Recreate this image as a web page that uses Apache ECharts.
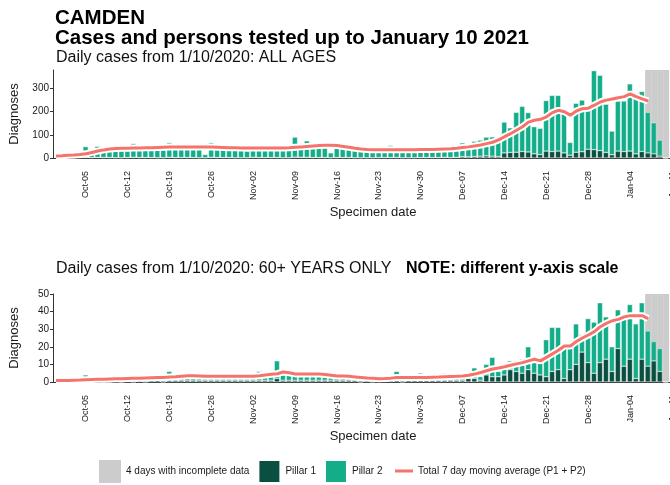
<!DOCTYPE html>
<html>
<head>
<meta charset="utf-8">
<script src="https://cdn.jsdelivr.net/npm/echarts@6/dist/echarts.min.js"></script>
<style>
  html, body { margin: 0; padding: 0; background: #fff; }
  #chart { width: 670px; height: 485px; }
</style>
</head>
<body>
<div id="chart"></div>
<script>
// categories: one per day from 30 Sep 2020, axis runs a few days past the data
const MONTHS = ['Jan', 'Feb', 'Mar', 'Apr', 'May', 'Jun', 'Jul', 'Aug', 'Sep', 'Oct', 'Nov', 'Dec'];
const dayCount = 107;
const categories = [];
for (let i = 0; i < dayCount; i++) {
  const d = new Date(Date.UTC(2020, 8, 30 + i));
  categories.push(MONTHS[d.getUTCMonth()] + '-' + String(d.getUTCDate()).padStart(2, '0'));
}

const tickDates = ['Oct-05', 'Oct-12', 'Oct-19', 'Oct-26', 'Nov-02', 'Nov-09', 'Nov-16', 'Nov-23',
  'Nov-30', 'Dec-07', 'Dec-14', 'Dec-21', 'Dec-28', 'Jan-04', 'Jan-11'];
const incompleteDates = ['Jan-07', 'Jan-08', 'Jan-09', 'Jan-10'];

// ALL AGES (Sep-30 .. Jan-10)
const pillar1All = [null,
  1, 1, 2, 2, 3, 2, 3, 2, 2, 1, 1, 2, 3, 2, 2, 2, 1, 1, 3, 2, 2, 2, 2, 1, 1, 3, 2, 2, 2, 1, 1,
  1, 3, 2, 2, 2, 2, 1, 1, 4, 3, 3, 2, 2, 2, 1, 2, 2, 2, 1, 1, 1, 1, 2, 2, 2, 2, 1, 1, 1, 2,
  2, 2, 2, 3, 2, 3,
  6, 5, 7, 8, 9, 8, 6, 22, 24, 25, 28, 26, 18, 15, 30, 28, 30, 22, 12, 25, 27, 38, 36, 32, 24, 14, 30, 28, 30, 18, 28, 22, 18, 8, 0];
const pillar2All = [null,
  7, 9, 12, 20, 46, 28, 47, 36, 38, 34, 31, 43, 59, 42, 38, 40, 37, 35, 63, 46, 44, 43, 42, 39, 14, 63, 43, 42, 40, 39, 37,
  29, 51, 43, 40, 42, 38, 37, 34, 86, 47, 71, 50, 48, 43, 21, 46, 40, 36, 35, 33, 29, 27, 47, 36, 52, 34, 34, 29, 27, 38,
  40, 38, 36, 41, 38, 39,
  59, 45, 65, 69, 81, 83, 79, 133, 106, 172, 195, 170, 117, 113, 218, 242, 240, 173, 55, 211, 223, 187, 341, 325, 208, 102, 216, 218, 290, 262, 259, 175, 134, 69, 0];
// 7 day average (Sep-30 .. Jan-07)
const avgAll = [9,
  10, 12, 13, 15, 18, 24, 30, 35, 39, 41, 42, 42, 43, 43, 44, 44, 45, 46, 47, 48, 48, 48, 48, 48, 47, 47, 46, 45, 44, 44, 43,
  43, 43, 43, 43, 43, 43, 43, 44, 46, 48, 50, 52, 54, 55, 55, 54, 50, 46, 42, 39, 37, 36, 36, 36, 36, 36, 36, 36, 36, 37,
  37, 37, 38, 39, 40, 42, 45, 48, 52, 56, 62, 68, 78, 92, 105, 120, 135, 155, 163, 167, 178, 196, 206, 200, 185, 203, 213, 215, 228, 242, 250,
  255, 260, 265, 277, 265, 255, 246];

// 60+ YEARS ONLY
const pillar1Old = [null,
  0, 0, 0, 1, 0, 0, 1, 0, 0, 1, 0, 1, 0, 1, 0, 1, 1, 0, 1, 1, 1, 1, 1, 1, 1, 1, 1, 1, 1, 1, 1,
  1, 1, 1, 1, 1, 2, 1, 1, 1, 1, 1, 1, 1, 1, 1, 1, 1, 1, 1, 0, 1, 0, 1, 1, 1, 1, 0, 1, 1, 1,
  1, 1, 1, 1, 1, 1,
  1, 2, 2, 1, 4, 3, 3, 4, 7, 6, 5, 7, 5, 4, 3, 6, 7, 2, 7, 10, 17, 11, 5, 11, 13, 6, 19, 9, 13, 2, 13, 9, 12, 6, 0];
const pillar2Old = [null,
  1, 1, 1, 1, 4, 1, 1, 2, 1, 1, 1, 3, 2, 1, 4, 1, 2, 2, 5, 2, 4, 2, 3, 2, 1, 2, 3, 2, 3, 2, 2,
  2, 2, 5, 3, 3, 10, 3, 3, 4, 4, 4, 3, 3, 2, 2, 3, 2, 2, 1, 2, 1, 2, 1, 1, 2, 5, 2, 1, 1, 4,
  1, 2, 2, 4, 2, 2,
  1, 1, 6, 2, 6, 11, 3, 5, 5, 6, 8, 13, 6, 7, 21, 25, 24, 20, 13, 23, 10, 25, 29, 34, 24, 14, 22, 27, 31, 31, 32, 20, 11, 13, 0];
const avgOld = [0.8,
  0.8, 0.9, 1.0, 1.1, 1.3, 1.4, 1.5, 1.6, 1.7, 1.8, 1.9, 2.0, 2.1, 2.2, 2.3, 2.4, 2.5, 2.6, 2.8, 3.0, 3.3, 3.6, 3.5, 3.4, 3.3, 3.2, 3.2, 3.2, 3.2, 3.2, 3.2,
  3.2, 3.3, 3.6, 4.0, 4.4, 4.7, 5.7, 5.2, 4.6, 4.5, 4.5, 4.5, 4.5, 4.2, 3.8, 3.4, 3.4, 3.2, 2.9, 2.6, 2.3, 2.1, 1.9, 2.0, 2.2, 2.6, 2.6, 2.5, 2.5, 2.5,
  2.6, 2.7, 2.8, 3.0, 3.1, 3.2, 3.4, 3.8, 4.5, 5.4, 6.4, 7.4, 8.0, 8.7, 9.5, 10.3, 11.0, 12.0, 12.9, 12.0, 14.0, 16.0, 18.0, 20.5, 20.5, 23.0, 25.0, 26.7, 28.6, 31.4, 33.3,
  34.8, 35.6, 37.0, 37.7, 37.7, 37.7, 36.0];

const yTicksAll = [0, 100, 200, 300];
const yTicksOld = [0, 10, 20, 30, 40, 50];

const FONT = '"Liberation Sans", Arial, sans-serif';
const C_P1 = '#0b4f40';
const C_P2 = '#14ad8a';
const C_GREY = '#cccccc';
const C_AVG = '#f6736b';
const C_TEXT = '#1a1a1a';
const N_GREY = '4 days with incomplete data';
const N_AVG = 'Total 7 day moving average (P1 + P2)';

const panels = [
  {top: 70, max: 380, yTicks: yTicksAll, p1: pillar1All, p2: pillar2All, avg: avgAll},
  {top: 294, max: 50, yTicks: yTicksOld, p1: pillar1Old, p2: pillar2Old, avg: avgOld}
];

const isTick = (idx, value) => tickDates.includes(value);

const grid = [], xAxis = [], yAxis = [], series = [];
panels.forEach((p, i) => {
  grid.push({left: 53, right: -23, top: p.top, height: 88, outerBoundsMode: 'none'});
  xAxis.push({
    type: 'category', gridIndex: i, data: categories, boundaryGap: true,
    axisLine: {lineStyle: {color: '#333', width: 1}},
    axisTick: {alignWithLabel: true, interval: isTick, length: 3, lineStyle: {color: '#333'}},
    axisLabel: {interval: isTick, rotate: 90, margin: 13, fontSize: 9, color: C_TEXT, fontFamily: FONT},
    name: 'Specimen date', nameLocation: 'middle', nameGap: 48,
    nameTextStyle: {fontSize: 13, color: C_TEXT, fontFamily: FONT}
  });
  yAxis.push({
    type: 'value', gridIndex: i, min: 0, max: p.max,
    axisLine: {show: true, lineStyle: {color: '#333'}},
    axisTick: {show: true, length: 3, customValues: p.yTicks, lineStyle: {color: '#333'}},
    axisLabel: {customValues: p.yTicks, fontSize: 10, color: C_TEXT, margin: 4, fontFamily: FONT},
    splitLine: {show: false},
    name: 'Diagnoses', nameLocation: 'middle', nameRotate: 90, nameGap: 32,
    nameTextStyle: {fontSize: 13, color: C_TEXT, fontFamily: FONT}
  });
  const barBase = {
    type: 'bar', xAxisIndex: i, yAxisIndex: i, stack: 'pillars' + i,
    barWidth: '88%', barGap: '-100%', z: 3, silent: true
  };
  series.push(Object.assign({}, barBase, {
    name: 'Pillar 1', data: p.p1,
    itemStyle: {color: C_P1, borderColor: '#fff', borderWidth: 0.4}
  }));
  series.push(Object.assign({}, barBase, {
    name: 'Pillar 2', data: p.p2,
    itemStyle: {color: C_P2, borderColor: '#fff', borderWidth: 0.4}
  }));
  series.push({
    type: 'bar', name: N_GREY, xAxisIndex: i, yAxisIndex: i,
    data: categories.map(c => incompleteDates.includes(c) ? p.max : null),
    barWidth: '100%', barGap: '-100%', z: 1, silent: true,
    itemStyle: {color: C_GREY}
  });
  // white halo under the average line
  series.push({
    type: 'line', name: 'halo' + i, xAxisIndex: i, yAxisIndex: i, data: p.avg,
    symbol: 'none', z: 4, silent: true,
    lineStyle: {color: '#fff', width: 7}, itemStyle: {color: '#fff'}
  });
  series.push({
    type: 'line', name: N_AVG, xAxisIndex: i, yAxisIndex: i, data: p.avg,
    symbol: 'none', z: 5, silent: true,
    lineStyle: {color: C_AVG, width: 3}, itemStyle: {color: C_AVG}
  });
});

const chart = echarts.init(document.getElementById('chart'));
chart.setOption({
  animation: false,
  backgroundColor: '#fff',
  title: [
    {text: 'CAMDEN\nCases and persons tested up to January 10 2021', left: 55, top: 8, padding: 0,
      textStyle: {fontSize: 20.5, fontWeight: 'bold', color: '#000', lineHeight: 20, fontFamily: FONT}},
    {text: 'Daily cases from 1/10/2020: ALL AGES', left: 56, top: 50, padding: 0,
      textStyle: {fontSize: 16, fontWeight: 'normal', color: '#111', fontFamily: FONT}},
    {text: 'Daily cases from 1/10/2020: 60+ YEARS ONLY', left: 56, top: 261, padding: 0,
      textStyle: {fontSize: 16, fontWeight: 'normal', color: '#111', fontFamily: FONT}},
    {text: 'NOTE: different y-axis scale', left: 406, top: 261, padding: 0,
      textStyle: {fontSize: 16, fontWeight: 'bold', color: '#000', fontFamily: FONT}}
  ],
  legend: [
    {data: [N_GREY, 'Pillar 1', 'Pillar 2'], left: 99, top: 459, padding: 0,
      itemWidth: 22, itemHeight: 23, itemGap: 8, icon: 'rect', selectedMode: false,
      textStyle: {fontSize: 10, color: C_TEXT, fontFamily: FONT}},
    {data: [N_AVG], left: 395, top: 466, padding: 0,
      itemWidth: 18, itemHeight: 3, icon: 'rect', selectedMode: false,
      textStyle: {fontSize: 10, color: C_TEXT, fontFamily: FONT}}
  ],
  grid: grid,
  xAxis: xAxis,
  yAxis: yAxis,
  series: series
});
</script>
</body>
</html>
